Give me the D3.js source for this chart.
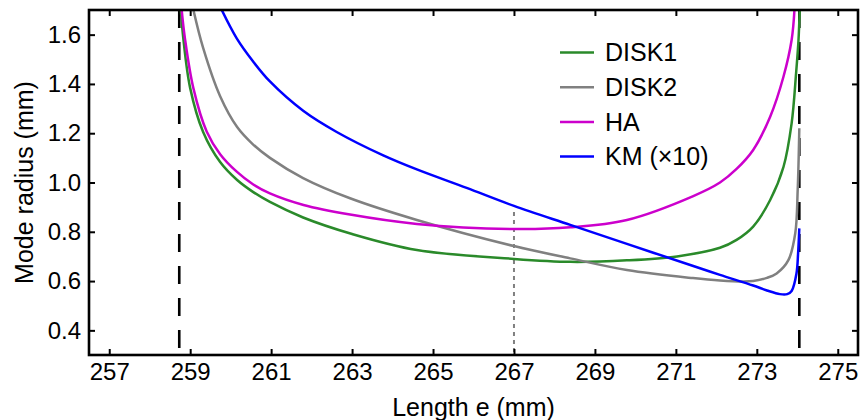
<!DOCTYPE html>
<html>
<head>
<meta charset="utf-8">
<script src="https://cdn.jsdelivr.net/npm/d3@7"></script>
<style>
    body { margin: 0; background: #fff; }
    svg text { font-family: Arial, "Liberation Sans", sans-serif; fill: #000; }
</style>
</head>
<body>
<div id="modeRadiusChart"></div>
<script>

// Series values (length e in mm, mode radius in mm)
var diskOneE = [258.77, 258.83, 259.0, 259.32, 259.74, 260.16, 260.55, 260.97, 261.79, 263.0, 264.6, 267.0, 268.4, 269.79, 271.03, 272.09, 272.5, 272.91, 273.33, 273.66, 273.86, 273.97, 274.03, 274.06];
var diskOneR = [1.70, 1.585, 1.383, 1.205, 1.083, 1.010, 0.962, 0.921, 0.858, 0.791, 0.726, 0.690, 0.678, 0.684, 0.700, 0.735, 0.767, 0.821, 0.929, 1.064, 1.24, 1.443, 1.578, 1.70];

var diskTwoE = [259.08, 259.32, 259.74, 260.16, 260.55, 260.97, 261.79, 262.95, 264.6, 267.0, 268.39, 269.79, 271.42, 272.09, 272.66, 272.91, 273.25, 273.49, 273.78, 273.95, 274.01, 274.05];
var diskTwoR = [1.70, 1.546, 1.350, 1.225, 1.155, 1.100, 1.018, 0.936, 0.848, 0.742, 0.692, 0.645, 0.612, 0.602, 0.598, 0.600, 0.613, 0.631, 0.685, 0.794, 0.970, 1.22];

var haE = [258.79, 258.87, 259.08, 259.41, 259.74, 260.15, 260.55, 260.97, 261.8, 262.95, 264.6, 267.0, 268.39, 269.79, 271.43, 272.09, 272.5, 272.91, 273.33, 273.66, 273.86, 273.93];
var haR = [1.70, 1.585, 1.382, 1.206, 1.115, 1.044, 0.993, 0.956, 0.909, 0.870, 0.832, 0.811, 0.818, 0.848, 0.945, 1.000, 1.055, 1.132, 1.267, 1.430, 1.578, 1.70];

var kmE = [259.78, 260.15, 260.56, 260.97, 261.8, 262.62, 263.77, 264.6, 265.83, 267.0, 268.39, 269.79, 271.43, 272.09, 272.91, 273.25, 273.57, 273.75, 273.86, 273.98, 274.02, 274.05];
var kmR = [1.70, 1.585, 1.49, 1.41, 1.29, 1.205, 1.11, 1.053, 0.978, 0.905, 0.828, 0.751, 0.661, 0.625, 0.582, 0.562, 0.547, 0.547, 0.560, 0.631, 0.713, 0.814];

// Legend names and line colours
var seriesNames = ["DISK1", "DISK2", "HA", "KM (\u00d710)"];
var seriesColors = ["#2a8a2a", "#808080", "#cc00cc", "#0000ff"];

// Stability limits and the marked working length
var limitE = [258.73, 274.05];
var guideE = [267, 267];
var guideR = [0.3, 0.88];

// Tick labels
var xTicks = [257, 259, 261, 263, 265, 267, 269, 271, 273, 275];
var yTicks = [0.4, 0.6, 0.8, 1.0, 1.2, 1.4, 1.6];

// Setting chart parameters
var properties = {
    width: 861,
    height: 420,
    margin: { top: 10, right: 3, bottom: 65, left: 89 }
};

// Calculating chart dimensions
var chartDimensions = {
    width: properties.width - properties.margin.left - properties.margin.right,
    height: properties.height - properties.margin.top - properties.margin.bottom
};

// Appending the chart SVG
var svg = d3.select("#modeRadiusChart")
    .append("svg")
    .attr("width", properties.width)
    .attr("height", properties.height);

var chartContent = svg.append("g")
    .attr("transform", "translate(" + properties.margin.left + "," + properties.margin.top + ")");

// Defining the scales
var xScale = d3.scaleLinear().domain([256.5, 275.5]).range([0, chartDimensions.width]);
var yScale = d3.scaleLinear().domain([0.3, 1.7]).range([chartDimensions.height, 0]);

// Clipping the curves to the plot area
svg.append("defs").append("clipPath")
    .attr("id", "plotClip")
    .append("rect")
    .attr("width", chartDimensions.width)
    .attr("height", chartDimensions.height);

var plotArea = chartContent.append("g").attr("clip-path", "url(#plotClip)");

// Vertical dashed stability limits
plotArea.selectAll(".limit-line")
    .data(limitE)
    .enter()
    .append("line")
    .attr("class", "limit-line")
    .attr("x1", function (d) { return xScale(d); })
    .attr("x2", function (d) { return xScale(d); })
    .attr("y1", yScale(1.7))
    .attr("y2", yScale(0.3))
    .attr("stroke", "#000")
    .attr("stroke-width", 2.6)
    .attr("stroke-dasharray", "18,14");

// Dotted guide at the working length
plotArea.append("line")
    .attr("x1", xScale(guideE[0]))
    .attr("x2", xScale(guideE[1]))
    .attr("y1", yScale(guideR[1]))
    .attr("y2", yScale(guideR[0]))
    .attr("stroke", "#808080")
    .attr("stroke-width", 2)
    .attr("stroke-dasharray", "4,4");

// Building the series from the arrays
var seriesData = [
    { e: diskOneE, r: diskOneR },
    { e: diskTwoE, r: diskTwoR },
    { e: haE, r: haR },
    { e: kmE, r: kmR }
].map(function (s, i) {
    return {
        name: seriesNames[i],
        color: seriesColors[i],
        points: s.e.map(function (e, j) { return [e, s.r[j]]; })
    };
});

var lineGen = d3.line()
    .x(function (d) { return xScale(d[0]); })
    .y(function (d) { return yScale(d[1]); })
    .curve(d3.curveCatmullRom.alpha(0.5));

// Drawing the curves
plotArea.selectAll(".series-line")
    .data(seriesData)
    .enter()
    .append("path")
    .attr("class", "series-line")
    .attr("d", function (d) { return lineGen(d.points); })
    .attr("fill", "none")
    .attr("stroke", function (d) { return d.color; })
    .attr("stroke-width", 2.5);

// Adding the axes, ticks pointing inward
chartContent.append("g")
    .attr("class", "x axis")
    .attr("transform", "translate(0," + chartDimensions.height + ")")
    .call(d3.axisBottom(xScale).tickValues(xTicks).tickSizeInner(-6).tickSizeOuter(0).tickPadding(8));

chartContent.append("g")
    .attr("class", "x axis top")
    .call(d3.axisTop(xScale).tickValues(xTicks).tickSizeInner(-6).tickSizeOuter(0).tickFormat(""));

chartContent.append("g")
    .attr("class", "y axis")
    .call(d3.axisLeft(yScale).tickValues(yTicks).tickSizeInner(-6).tickSizeOuter(0).tickPadding(8).tickFormat(d3.format(".1f")));

chartContent.append("g")
    .attr("class", "y axis right")
    .attr("transform", "translate(" + chartDimensions.width + ",0)")
    .call(d3.axisRight(yScale).tickValues(yTicks).tickSizeInner(-6).tickSizeOuter(0).tickFormat(""));

chartContent.selectAll(".axis .domain").remove();
chartContent.selectAll(".axis line").attr("stroke", "#000").attr("stroke-width", 2);
chartContent.selectAll(".axis text").attr("font-size", 24).attr("fill", "#000");

// Plot frame
chartContent.append("rect")
    .attr("width", chartDimensions.width)
    .attr("height", chartDimensions.height)
    .attr("fill", "none")
    .attr("stroke", "#000")
    .attr("stroke-width", 2.6);

// Axis titles
svg.append("text")
    .attr("x", properties.margin.left + chartDimensions.width / 2)
    .attr("y", 416)
    .attr("text-anchor", "middle")
    .attr("font-size", 25)
    .text("Length e (mm)");

svg.append("text")
    .attr("transform", "translate(33," + (properties.margin.top + chartDimensions.height / 2) + ") rotate(-90)")
    .attr("text-anchor", "middle")
    .attr("font-size", 25)
    .text("Mode radius (mm)");

// Adding legend
var legend = svg.append("g")
    .selectAll(".legend-item")
    .data(seriesData)
    .enter()
    .append("g")
    .attr("class", "legend-item")
    .attr("transform", function (d, i) { return "translate(560," + (52.5 + i * 34.7) + ")"; });

legend.append("line")
    .attr("x1", 0)
    .attr("x2", 34)
    .attr("stroke", function (d) { return d.color; })
    .attr("stroke-width", 2.5);

legend.append("text")
    .attr("x", 45)
    .attr("dy", "0.35em")
    .attr("font-size", 25)
    .text(function (d) { return d.name; });

</script>
</body>
</html>
